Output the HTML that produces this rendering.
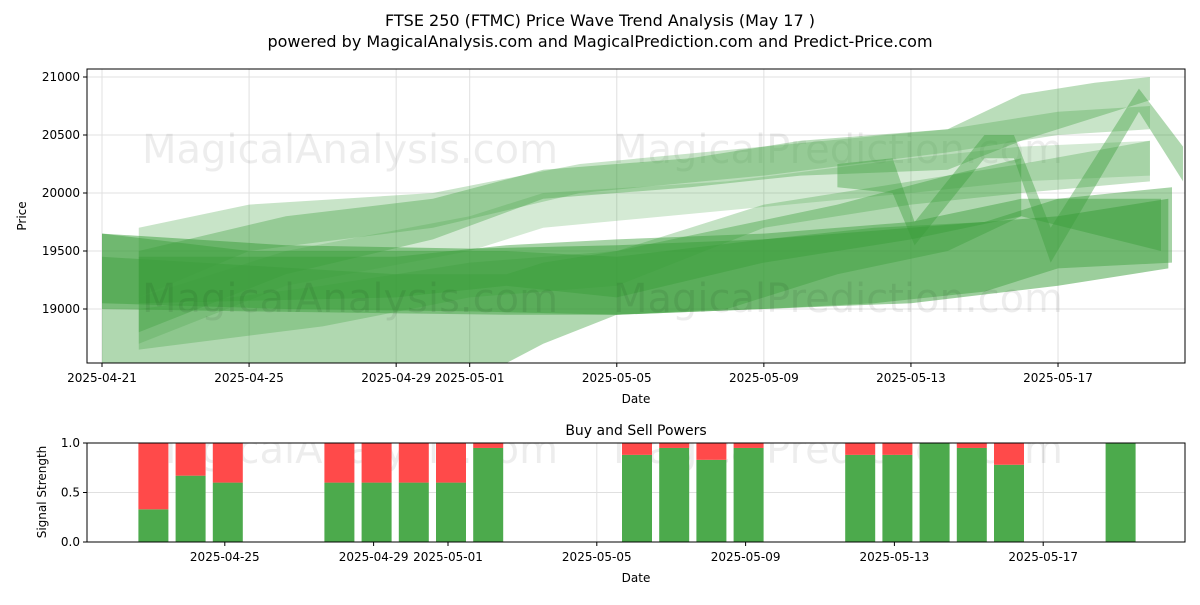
<!DOCTYPE html>
<html><head><meta charset="utf-8"><style>
body{margin:0;background:#fff;font-family:"Liberation Sans","DejaVu Sans",sans-serif}
svg text{font-family:"DejaVu Sans","Liberation Sans",sans-serif}
</style></head><body>
<svg id="c" width="1200" height="600" xmlns="http://www.w3.org/2000/svg">
<defs><clipPath id="cp1"><rect x="87" y="69" width="1098" height="294"/></clipPath><clipPath id="cp2"><rect x="87" y="443" width="1098" height="99"/></clipPath></defs>
<text x="600" y="26" text-anchor="middle" font-size="16">FTSE 250 (FTMC) Price Wave Trend Analysis (May 17 )</text>
<text x="600" y="47" text-anchor="middle" font-size="16">powered by MagicalAnalysis.com and MagicalPrediction.com and Predict-Price.com</text>
<g id="topg" clip-path="url(#cp1)"></g>
<g id="botg" clip-path="url(#cp2)"></g>
<g id="axes"></g>
</svg>
<script>
const NS="http://www.w3.org/2000/svg";
const priceTicks=[19000,19500,20000,20500,21000];
const dateTicks=["2025-04-21","2025-04-25","2025-04-29","2025-05-01","2025-05-05","2025-05-09","2025-05-13","2025-05-17"];
const dateTickDays=[0,4,8,10,14,18,22,26];
const band1=[[0,19050,19650],[5,19000,19550],[10,18980,19520],[14,18950,19550],[18,19000,19600],[22,19050,19700],[26,19200,19800],[29.0,19350,19950]];
const band2=[[0,19000,19650],[4,18980,19500],[11,18950,19500],[14,18950,19450],[18,19000,19600],[21,19050,19700],[24,19150,19750],[26,19350,19950],[29.1,19400,20050]];
const band3=[[1,19050,19450],[8,19100,19450],[11,19200,19550],[14,19100,19600],[18,19400,19650],[22,19600,19750],[25,19800,19950],[28.8,19500,19950]];
const band4=[[0,18534,19450],[8,18534,19300],[11,18534,19300],[12,18700,19400],[14,18950,19500],[17,19000,19700],[20,19300,19900],[23,19500,20150],[25,19800,20300]];
const band5=[[1,18800,19500],[5,19300,19800],[9,19600,19950],[12,19950,20200],[16,20050,20300],[19,20150,20450],[23,20200,20550],[25,20450,20850],[27,20650,20950],[28.5,20800,21000]];
const band6=[[1,19100,19700],[4,19500,19900],[9,19700,20000],[13,20000,20250],[18,20150,20400],[23,20350,20550],[26,20500,20700],[28.5,20550,20750]];
const band7=[[1,18700,19100],[5,19200,19500],[10,19500,19800],[12,19700,20000],[17,19850,20100],[22,20000,20300],[25,20100,20400],[28.5,20150,20450]];
const band8=[[20,20050,20250],[21.5,20000,20300],[22.1,19550,19750],[24,20300,20500],[24.8,20300,20500],[25.8,19400,19700],[28.2,20700,20900],[29.4,20100,20400]];
const band9=[[1,18650,19000],[6,18850,19200],[10,19100,19400],[14,19200,19500],[18,19700,19900],[22,19900,20100],[25,20000,20250],[28.5,20100,20450]];
const bands=[band4,band7,band6,band5,band9,band2,band1,band3,band8];
const bandOpacity=[0.4,0.22,0.28,0.35,0.3,0.45,0.5,0.45,0.4];
const barDays=[2,3,4,7,8,9,10,11,15,16,17,18,21,22,23,24,25,28];
const buyVals=[0.33,0.67,0.6,0.6,0.6,0.6,0.6,0.95,0.88,0.95,0.83,0.95,0.88,0.88,1.0,0.95,0.78,1.0];
const sigTicks=[0,0.5,1.0];
const botDateTicks=["2025-04-25","2025-04-29","2025-05-01","2025-05-05","2025-05-09","2025-05-13","2025-05-17"];
const botDateDays=[4,8,10,14,18,22,26];

const X=d=>102+36.77*d, Y=p=>77+(21000-p)*0.116;
const XB=d=>76+37.2*d, YB=v=>542-99*v;
function mk(t,a,parent){const e=document.createElementNS(NS,t);for(const k in a)e.setAttribute(k,a[k]);(parent||document.getElementById('axes')).appendChild(e);return e;}
const topG=document.getElementById('topg'),botG=document.getElementById('botg');
priceTicks.forEach(p=>{const l=mk('line',{x1:87,x2:1185,y1:Y(p),y2:Y(p),stroke:'#e0e0e0'},topG);

});
dateTickDays.forEach(d=>{const l=mk('line',{x1:X(d),x2:X(d),y1:69,y2:363,stroke:'#e0e0e0'},topG);

});
const w1=mk('text',{x:350,y:163,'font-size':40,fill:'#000','fill-opacity':0.07,'text-anchor':'middle'},topG);w1.textContent='MagicalAnalysis.com';


const w2=mk('text',{x:838,y:163,'font-size':40,fill:'#000','fill-opacity':0.07,'text-anchor':'middle'},topG);w2.textContent='MagicalPrediction.com';


bands.forEach((b,i)=>{
 const up=b.map(r=>X(r[0])+','+Y(r[2])), lo=b.slice().reverse().map(r=>X(r[0])+','+Y(r[1]));
 const p=mk('polygon',{points:up.concat(lo).join(' '),fill:'#3a9e3a','fill-opacity':bandOpacity[i]},topG);
 
 
});
const w3=mk('text',{x:350,y:312,'font-size':40,fill:'#000','fill-opacity':0.07,'text-anchor':'middle'},topG);w3.textContent='MagicalAnalysis.com';


const w4=mk('text',{x:838,y:312,'font-size':40,fill:'#000','fill-opacity':0.07,'text-anchor':'middle'},topG);w4.textContent='MagicalPrediction.com';


const f1=mk('rect',{x:87,y:69,width:1098,height:294,fill:'none',stroke:'#000'});


priceTicks.forEach(p=>{mk('line',{x1:83,x2:87,y1:Y(p),y2:Y(p),stroke:'#000'});const t=mk('text',{x:80,y:Y(p)+4,'font-size':12,'text-anchor':'end'});t.textContent=p;

});
dateTickDays.forEach((d,i)=>{mk('line',{x1:X(d),x2:X(d),y1:363,y2:367,stroke:'#000'});const t=mk('text',{x:X(d),y:382,'font-size':12,'text-anchor':'middle'});t.textContent=dateTicks[i];

});
const yl=mk('text',{x:26,y:216,'font-size':12,'text-anchor':'middle',transform:'rotate(-90 26 216)'});yl.textContent='Price';


const xl=mk('text',{x:636,y:403,'font-size':12,'text-anchor':'middle'});xl.textContent='Date';


sigTicks.forEach(v=>{const l=mk('line',{x1:87,x2:1185,y1:YB(v),y2:YB(v),stroke:'#e0e0e0'},botG);

});
botDateDays.forEach(d=>{const l=mk('line',{x1:XB(d),x2:XB(d),y1:443,y2:542,stroke:'#e0e0e0'},botG);

});
const w5=mk('text',{x:350,y:463,'font-size':40,fill:'#000','fill-opacity':0.07,'text-anchor':'middle'},botG);w5.textContent='MagicalAnalysis.com';


const w6=mk('text',{x:838,y:463,'font-size':40,fill:'#000','fill-opacity':0.07,'text-anchor':'middle'},botG);w6.textContent='MagicalPrediction.com';


barDays.forEach((d,i)=>{
 const b=mk('rect',{x:XB(d)-12,y:YB(buyVals[i]),width:30,height:YB(0)-YB(buyVals[i]),fill:'#4caa4c'},botG);
 
 
 const s=mk('rect',{x:XB(d)-12,y:YB(1),width:30,height:YB(buyVals[i])-YB(1),fill:'#ff4a4a'},botG);
 
 
});
const f2=mk('rect',{x:87,y:443,width:1098,height:99,fill:'none',stroke:'#000'});


sigTicks.forEach(v=>{mk('line',{x1:83,x2:87,y1:YB(v),y2:YB(v),stroke:'#000'});const t=mk('text',{x:80,y:YB(v)+4,'font-size':12,'text-anchor':'end'});t.textContent=v.toFixed(1);

});
botDateDays.forEach((d,i)=>{mk('line',{x1:XB(d),x2:XB(d),y1:542,y2:546,stroke:'#000'});const t=mk('text',{x:XB(d),y:561,'font-size':12,'text-anchor':'middle'});t.textContent=botDateTicks[i];

});
const bt=mk('text',{x:636,y:435,'font-size':14,'text-anchor':'middle'});bt.textContent='Buy and Sell Powers';


const byl=mk('text',{x:46,y:492,'font-size':12,'text-anchor':'middle',transform:'rotate(-90 46 492)'});byl.textContent='Signal Strength';


const bxl=mk('text',{x:636,y:582,'font-size':12,'text-anchor':'middle'});bxl.textContent='Date';


</script>
</body></html>
